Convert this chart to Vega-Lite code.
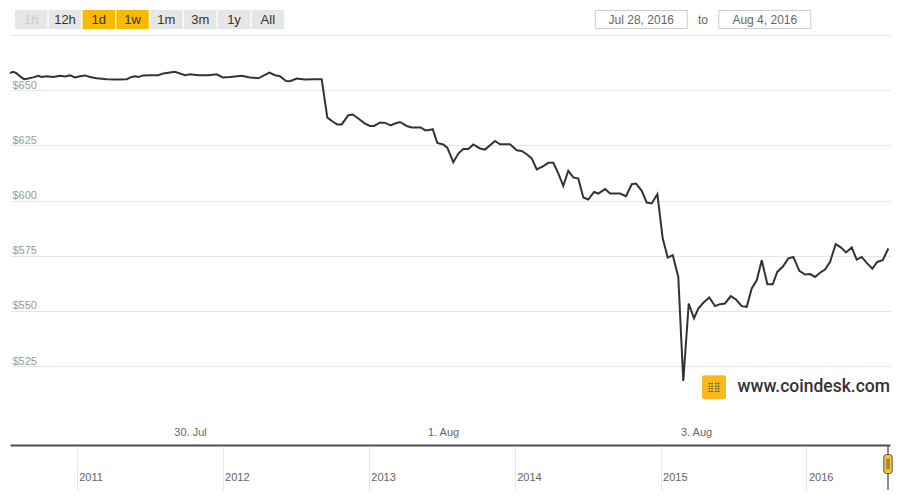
{
  "$schema": "https://vega.github.io/schema/vega-lite/v6.json",
  "background": "white",
  "padding": {"left": 6, "right": 10, "top": 10, "bottom": 5},
  "bounds": "flush",
  "spacing": 1,
  "config": {"view": {"stroke": null}, "font": "Liberation Sans"},
  "vconcat": [
    {
      "width": 880,
      "height": 24,
      "layer": [
        {
          "data": {"values": [
            {"label": "1h", "state": "disabled"},
            {"label": "12h", "state": "normal"},
            {"label": "1d", "state": "selected"},
            {"label": "1w", "state": "selected"},
            {"label": "1m", "state": "normal"},
            {"label": "3m", "state": "normal"},
            {"label": "1y", "state": "normal"},
            {"label": "All", "state": "normal"}
          ]},
          "encoding": {
            "x": {"field": "label", "type": "nominal", "axis": null, "scale": {"domain": ["1h", "12h", "1d", "1w", "1m", "3m", "1y", "All", "_b1", "_b2", "_b3", "_b4", "_b5", "_b6", "_b7", "_b8", "_b9", "_b10", "_b11", "_b12", "_b13", "_b14", "_b15", "_b16", "_b17"], "paddingInner": 0.04, "paddingOuter": 0.538, "align": 0.137}}
          },
          "layer": [
            {
              "mark": {"type": "bar"},
              "encoding": {
                "y": {"datum": 0, "type": "quantitative", "scale": {"domain": [0, 24], "reverse": true}, "axis": null},
                "y2": {"datum": 19},
                "color": {"field": "state", "type": "nominal", "legend": null, "scale": {"domain": ["disabled", "normal", "selected"], "range": ["#e6e6e6", "#e6e6e6", "#f9b900"]}}
              }
            },
            {
              "mark": {"type": "text", "fontSize": 13, "baseline": "middle"},
              "encoding": {
                "y": {"datum": 9.5, "type": "quantitative"},
                "text": {"field": "label"},
                "fill": {"field": "state", "type": "nominal", "legend": null, "scale": {"domain": ["disabled", "normal", "selected"], "range": ["#cccccc", "#333333", "#333333"]}}
              }
            }
          ]
        },
        {
          "data": {"values": [
            {"slot": "a", "text": "Jul 28, 2016"},
            {"slot": "b", "text": "to"},
            {"slot": "c", "text": "Aug 4, 2016"}
          ]},
          "encoding": {
            "x": {"field": "slot", "type": "nominal", "axis": null, "scale": {"domain": ["_c1", "_c2", "_c3", "_c4", "_c5", "_c6", "_c7", "_c8", "_c9", "a", "b", "c", "_c10"], "paddingInner": 0, "paddingOuter": 0.625, "align": 0.578}}
          },
          "layer": [
            {
              "transform": [{"filter": "datum.slot != 'b'"}],
              "mark": {"type": "bar", "width": 92, "fill": "white", "stroke": "#cccccc", "strokeWidth": 1},
              "encoding": {
                "y": {"datum": 0.5, "type": "quantitative"},
                "y2": {"datum": 18.5}
              }
            },
            {
              "mark": {"type": "text", "fontSize": 12, "color": "#666666", "baseline": "middle"},
              "encoding": {
                "y": {"datum": 9.5, "type": "quantitative"},
                "text": {"field": "text"}
              }
            }
          ]
        }
      ],
      "resolve": {"scale": {"x": "independent", "color": "independent", "fill": "independent"}}
    },
    {
      "width": 880,
      "height": 410,
      "layer": [
        {
          "data": {"values": [
{"time":"2016-07-28T13:51","price":657.8},
{"time":"2016-07-28T14:29","price":658.3},
{"time":"2016-07-28T15:07","price":657.6},
{"time":"2016-07-28T15:53","price":656.0},
{"time":"2016-07-28T16:31","price":655.0},
{"time":"2016-07-28T17:19","price":655.3},
{"time":"2016-07-28T18:16","price":655.8},
{"time":"2016-07-28T19:13","price":656.5},
{"time":"2016-07-28T19:52","price":656.0},
{"time":"2016-07-28T20:49","price":656.3},
{"time":"2016-07-28T22:04","price":656.0},
{"time":"2016-07-28T23:20","price":656.5},
{"time":"2016-07-29T00:17","price":656.2},
{"time":"2016-07-29T01:14","price":656.7},
{"time":"2016-07-29T02:11","price":655.8},
{"time":"2016-07-29T03:08","price":656.3},
{"time":"2016-07-29T04:05","price":656.7},
{"time":"2016-07-29T05:02","price":656.0},
{"time":"2016-07-29T06:18","price":655.4},
{"time":"2016-07-29T08:12","price":655.0},
{"time":"2016-07-29T10:05","price":654.8},
{"time":"2016-07-29T11:59","price":655.0},
{"time":"2016-07-29T12:56","price":656.0},
{"time":"2016-07-29T13:34","price":656.3},
{"time":"2016-07-29T14:11","price":656.0},
{"time":"2016-07-29T15:08","price":656.7},
{"time":"2016-07-29T16:25","price":656.8},
{"time":"2016-07-29T17:59","price":656.8},
{"time":"2016-07-29T18:56","price":657.6},
{"time":"2016-07-29T21:09","price":658.3},
{"time":"2016-07-29T23:03","price":656.8},
{"time":"2016-07-30T00:00","price":657.2},
{"time":"2016-07-30T01:34","price":656.8},
{"time":"2016-07-30T03:28","price":656.8},
{"time":"2016-07-30T05:04","price":657.2},
{"time":"2016-07-30T06:12","price":655.8},
{"time":"2016-07-30T07:35","price":656.0},
{"time":"2016-07-30T09:49","price":656.5},
{"time":"2016-07-30T11:23","price":655.8},
{"time":"2016-07-30T12:58","price":655.4},
{"time":"2016-07-30T15:03","price":658.0},
{"time":"2016-07-30T16:08","price":656.8},
{"time":"2016-07-30T17:04","price":656.3},
{"time":"2016-07-30T18:13","price":654.2},
{"time":"2016-07-30T18:58","price":654.1},
{"time":"2016-07-30T20:14","price":655.3},
{"time":"2016-07-30T21:49","price":654.8},
{"time":"2016-07-30T23:23","price":655.0},
{"time":"2016-07-31T00:59","price":655.0},
{"time":"2016-07-31T02:03","price":637.6},
{"time":"2016-07-31T03:11","price":635.6},
{"time":"2016-07-31T03:57","price":634.5},
{"time":"2016-07-31T04:47","price":634.5},
{"time":"2016-07-31T06:02","price":638.7},
{"time":"2016-07-31T06:52","price":639.0},
{"time":"2016-07-31T07:56","price":637.2},
{"time":"2016-07-31T09:12","price":634.9},
{"time":"2016-07-31T10:09","price":633.8},
{"time":"2016-07-31T10:55","price":633.8},
{"time":"2016-07-31T12:03","price":635.4},
{"time":"2016-07-31T13:00","price":635.2},
{"time":"2016-07-31T14:05","price":634.1},
{"time":"2016-07-31T14:53","price":634.9},
{"time":"2016-07-31T15:50","price":635.6},
{"time":"2016-07-31T17:07","price":633.8},
{"time":"2016-07-31T18:04","price":633.1},
{"time":"2016-07-31T19:46","price":633.1},
{"time":"2016-07-31T20:35","price":631.9},
{"time":"2016-07-31T21:13","price":631.9},
{"time":"2016-07-31T22:03","price":632.3},
{"time":"2016-07-31T22:55","price":626.1},
{"time":"2016-08-01T00:03","price":625.4},
{"time":"2016-08-01T00:49","price":624.0},
{"time":"2016-08-01T01:57","price":617.4},
{"time":"2016-08-01T02:54","price":621.3},
{"time":"2016-08-01T03:51","price":623.4},
{"time":"2016-08-01T04:48","price":623.4},
{"time":"2016-08-01T05:45","price":625.4},
{"time":"2016-08-01T07:01","price":623.6},
{"time":"2016-08-01T07:58","price":623.1},
{"time":"2016-08-01T09:52","price":627.0},
{"time":"2016-08-01T10:49","price":625.5},
{"time":"2016-08-01T12:43","price":625.5},
{"time":"2016-08-01T13:59","price":622.8},
{"time":"2016-08-01T14:56","price":622.5},
{"time":"2016-08-01T15:53","price":621.0},
{"time":"2016-08-01T16:50","price":619.1},
{"time":"2016-08-01T17:47","price":614.1},
{"time":"2016-08-01T19:02","price":615.6},
{"time":"2016-08-01T19:59","price":617.1},
{"time":"2016-08-01T20:56","price":617.1},
{"time":"2016-08-01T21:52","price":612.3},
{"time":"2016-08-01T22:49","price":606.7},
{"time":"2016-08-01T23:46","price":613.5},
{"time":"2016-08-02T00:43","price":610.5},
{"time":"2016-08-02T01:40","price":610.0},
{"time":"2016-08-02T02:37","price":601.4},
{"time":"2016-08-02T03:34","price":600.5},
{"time":"2016-08-02T04:39","price":603.9},
{"time":"2016-08-02T05:28","price":603.2},
{"time":"2016-08-02T06:44","price":605.2},
{"time":"2016-08-02T07:41","price":603.2},
{"time":"2016-08-02T09:35","price":603.2},
{"time":"2016-08-02T10:43","price":602.0},
{"time":"2016-08-02T11:48","price":607.4},
{"time":"2016-08-02T12:37","price":607.7},
{"time":"2016-08-02T13:42","price":604.4},
{"time":"2016-08-02T14:39","price":599.1},
{"time":"2016-08-02T15:35","price":598.7},
{"time":"2016-08-02T16:40","price":602.9},
{"time":"2016-08-02T17:41","price":582.8},
{"time":"2016-08-02T18:38","price":574.2},
{"time":"2016-08-02T19:35","price":575.3},
{"time":"2016-08-02T20:38","price":565.4},
{"time":"2016-08-02T21:35","price":518.3},
{"time":"2016-08-02T22:37","price":553.4},
{"time":"2016-08-02T23:37","price":546.7},
{"time":"2016-08-03T00:26","price":551.1},
{"time":"2016-08-03T01:23","price":553.7},
{"time":"2016-08-03T02:31","price":556.1},
{"time":"2016-08-03T03:36","price":552.2},
{"time":"2016-08-03T04:33","price":553.1},
{"time":"2016-08-03T05:30","price":553.4},
{"time":"2016-08-03T06:35","price":556.7},
{"time":"2016-08-03T07:35","price":555.2},
{"time":"2016-08-03T08:40","price":552.2},
{"time":"2016-08-03T09:37","price":551.9},
{"time":"2016-08-03T10:34","price":560.2},
{"time":"2016-08-03T11:31","price":563.9},
{"time":"2016-08-03T12:28","price":573.0},
{"time":"2016-08-03T13:32","price":562.1},
{"time":"2016-08-03T14:33","price":562.1},
{"time":"2016-08-03T15:25","price":567.7},
{"time":"2016-08-03T16:27","price":570.0},
{"time":"2016-08-03T17:31","price":573.8},
{"time":"2016-08-03T18:28","price":574.5},
{"time":"2016-08-03T19:36","price":568.2},
{"time":"2016-08-03T20:41","price":566.5},
{"time":"2016-08-03T21:38","price":566.7},
{"time":"2016-08-03T22:35","price":565.4},
{"time":"2016-08-03T23:31","price":567.3},
{"time":"2016-08-04T00:28","price":568.8},
{"time":"2016-08-04T01:25","price":572.2},
{"time":"2016-08-04T02:30","price":580.3},
{"time":"2016-08-04T03:27","price":578.8},
{"time":"2016-08-04T04:28","price":576.5},
{"time":"2016-08-04T05:32","price":578.8},
{"time":"2016-08-04T06:29","price":573.3},
{"time":"2016-08-04T07:26","price":574.5},
{"time":"2016-08-04T08:23","price":571.8},
{"time":"2016-08-04T09:27","price":569.2},
{"time":"2016-08-04T10:23","price":572.2},
{"time":"2016-08-04T11:25","price":573.0},
{"time":"2016-08-04T12:29","price":578.3}
          ]},
          "mark": {"type": "line", "color": "#333333", "strokeWidth": 2},
          "encoding": {
            "x": {
              "field": "time", "type": "temporal",
              "scale": {"domain": [{"year": 2016, "month": 7, "date": 28, "hours": 13, "minutes": 51}, {"year": 2016, "month": 8, "date": 4, "hours": 12, "minutes": 48}]},
              "axis": {
                "values": [{"year": 2016, "month": 7, "date": 30}, {"year": 2016, "month": 8, "date": 1}, {"year": 2016, "month": 8, "date": 3}],
                "format": "%-d. %b", "grid": false, "ticks": false, "tickSize": 0,
                "domain": true, "domainColor": "#4d4d4d", "domainWidth": 2,
                "labelPadding": -13, "labelBaseline": "middle", "labelColor": "#666666", "labelFontSize": 11, "title": null
              }
            },
            "y": {
              "field": "price", "type": "quantitative",
              "scale": {"domain": [489.3, 675], "nice": false, "zero": false},
              "axis": {
                "values": [525, 550, 575, 600, 625, 650, 675],
                "grid": true, "gridColor": "#e6e6e6", "domain": false, "ticks": false, "tickSize": 0,
                "labelAlign": "left", "labelBaseline": "bottom", "labelPadding": -2,
                "labelExpr": "datum.value >= 675 ? '' : '$' + datum.value",
                "labelColor": "#999999", "labelFontSize": 11, "title": null
              }
            }
          }
        },
        {
          "data": {"values": [{}]},
          "mark": {"type": "point", "shape": "M-0.8,-1 L0.8,-1 Q1,-1 1,-0.8 L1,0.8 Q1,1 0.8,1 L-0.8,1 Q-1,1 -1,0.8 L-1,-0.8 Q-1,-1 -0.8,-1 Z", "size": 576, "filled": true, "fill": "#f9b91c", "opacity": 1, "strokeWidth": 0},
          "encoding": {
            "x": {"datum": {"year": 2016, "month": 8, "date": 3, "hours": 3, "minutes": 25}, "type": "temporal"},
            "y": {"datum": 515.5, "type": "quantitative"}
          }
        },
        {
          "data": {"values": [{}]},
          "mark": {"type": "text", "text": "⣿⣿", "font": "DejaVu Sans", "fontSize": 9, "color": "#3a3a3a", "baseline": "middle", "align": "center"},
          "encoding": {
            "x": {"datum": {"year": 2016, "month": 8, "date": 3, "hours": 3, "minutes": 25}, "type": "temporal"},
            "y": {"datum": 515.5, "type": "quantitative"}
          }
        },
        {
          "data": {"values": [{}]},
          "mark": {"type": "text", "text": "www.coindesk.com", "font": "Roboto", "fontSize": 17.5, "fontWeight": 500, "color": "#333333", "align": "right", "baseline": "middle"},
          "encoding": {
            "x": {"datum": {"year": 2016, "month": 8, "date": 4, "hours": 12, "minutes": 48}, "type": "temporal"},
            "y": {"datum": 515.5, "type": "quantitative"}
          }
        }
      ]
    },
    {
      "width": 880,
      "height": 44,
      "data": {"values": [{}]},
      "layer": [
        {
          "mark": {"type": "rule", "color": "#666666", "strokeWidth": 1.5},
          "encoding": {
            "x": {
              "datum": {"year": 2016, "month": 7, "date": 23}, "type": "temporal",
              "scale": {"domain": [{"year": 2010, "month": 7, "date": 18}, {"year": 2016, "month": 7, "date": 28}]},
              "axis": {
                "values": [{"year": 2011, "month": 1, "date": 1}, {"year": 2012, "month": 1, "date": 1}, {"year": 2013, "month": 1, "date": 1}, {"year": 2014, "month": 1, "date": 1}, {"year": 2015, "month": 1, "date": 1}, {"year": 2016, "month": 1, "date": 1}],
                "format": "%Y", "grid": true, "gridColor": "#e6e6e6", "domain": false, "ticks": false, "tickSize": 0,
                "labelPadding": -13, "labelBaseline": "middle", "labelAlign": "left", "labelOffset": 2,
                "labelColor": "#666666", "labelFontSize": 11, "title": null
              }
            }
          }
        },
        {
          "mark": {"type": "point", "shape": "M-0.14,-1 L0.14,-1 Q0.44,-1 0.44,-0.7 L0.44,0.7 Q0.44,1 0.14,1 L-0.14,1 Q-0.44,1 -0.44,0.7 L-0.44,-0.7 Q-0.44,-1 -0.14,-1 Z", "size": 361, "filled": true, "fill": "#f9c22e", "stroke": "#555555", "strokeWidth": 1, "opacity": 1},
          "encoding": {
            "x": {"datum": {"year": 2016, "month": 7, "date": 23}, "type": "temporal"},
            "y": {"datum": 0.59, "type": "quantitative", "scale": {"domain": [0, 1]}, "axis": null}
          }
        },
        {
          "mark": {"type": "point", "shape": "M-0.1,-0.55 L-0.1,0.55 M0.1,-0.55 L0.1,0.55", "size": 361, "filled": false, "stroke": "#555555", "strokeWidth": 1, "opacity": 1},
          "encoding": {
            "x": {"datum": {"year": 2016, "month": 7, "date": 23}, "type": "temporal"},
            "y": {"datum": 0.59, "type": "quantitative"}
          }
        }
      ]
    }
  ]
}
